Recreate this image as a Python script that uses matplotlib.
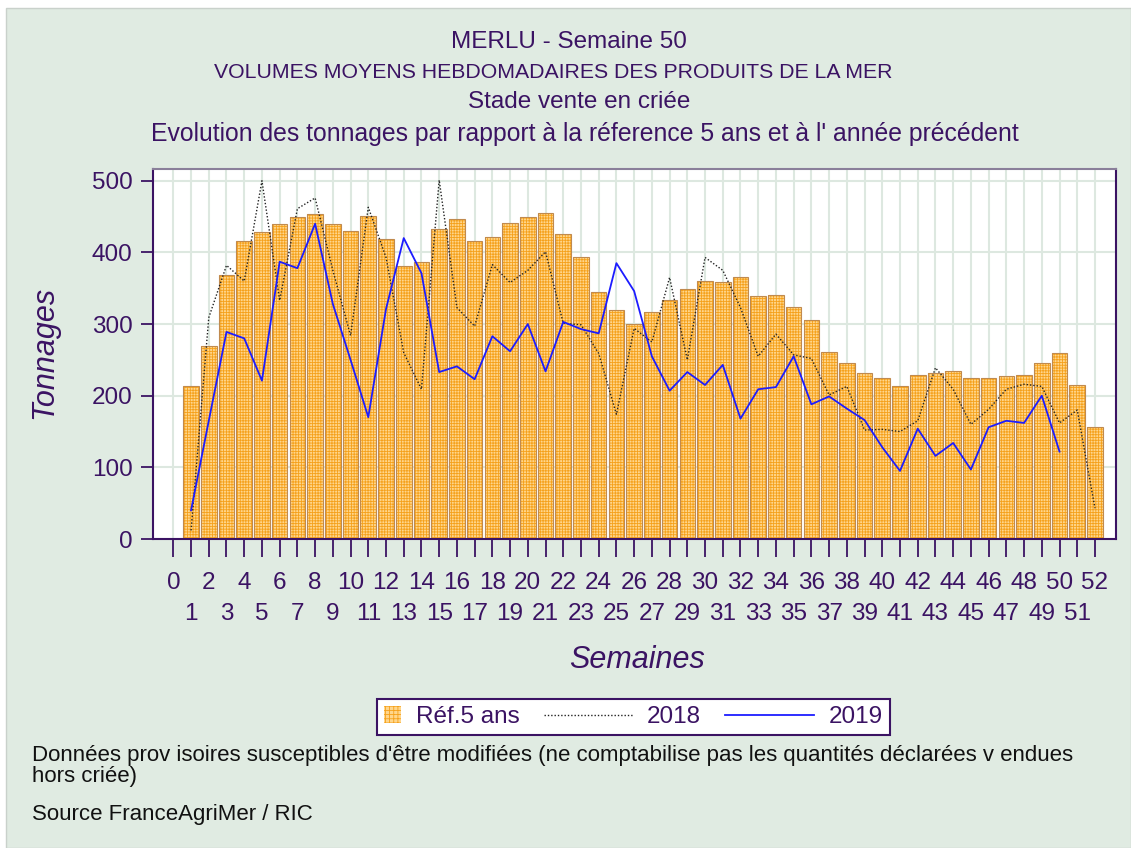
import matplotlib
matplotlib.use("Agg")
import matplotlib.pyplot as plt
from matplotlib.patches import Patch, Rectangle
from matplotlib.lines import Line2D
from matplotlib.legend_handler import HandlerPatch

# ── Data (tonnes per week) ────────────────────────────────────────────────
weeks = list(range(1, 53))
ref5 = [214, 270, 369, 416, 429, 440, 449, 453, 439, 430,
        451, 419, 381, 386, 432, 447, 416, 422, 441, 449,
        455, 426, 394, 345, 319, 300, 317, 333, 349, 360,
        359, 366, 339, 341, 324, 306, 261, 245, 231, 225,
        213, 229, 232, 234, 225, 225, 228, 229, 246, 260,
        215, 156]
y2018 = [12, 309, 382, 360, 500, 333, 461, 476, 375, 284,
         463, 393, 260, 209, 501, 323, 297, 383, 358, 375,
         401, 301, 299, 259, 174, 294, 275, 365, 250, 393,
         375, 323, 255, 286, 257, 252, 201, 213, 152, 153,
         150, 165, 239, 209, 160, 181, 209, 216, 213, 162,
         180, 43]
y2019 = [40, 165, 289, 280, 221, 387, 378, 440, 328, 250,
         170, 321, 420, 371, 233, 241, 223, 283, 262, 300,
         234, 303, 293, 287, 385, 346, 255, 207, 233, 215,
         243, 168, 209, 212, 255, 188, 199, 182, 166, 128,
         95, 154, 116, 134, 97, 156, 165, 162, 200, 122]
week_ticks = list(range(0, 53))
y_ticks = [0, 100, 200, 300, 400, 500]

titles = [
    "MERLU - Semaine 50",
    "VOLUMES MOYENS HEBDOMADAIRES DES PRODUITS DE LA MER",
    "Stade vente en criée",
    "Evolution des tonnages par rapport à la réference 5 ans et à l' année précédent",
]
notes = [
    "Données prov isoires susceptibles d'être modifiées (ne comptabilise pas les quantités déclarées v endues\nhors criée)",
    "Source FranceAgriMer / RIC",
]

PURPLE = "#3b1363"
BG = "#e0ebe2"
BAR_FILL = "#ffd68c"
BAR_HATCH = "#f5a11c"
BAR_EDGE = "#c08a4e"
W, H = 1131, 848

plt.rcParams["font.family"] = ["Liberation Sans", "DejaVu Sans"]
plt.rcParams["hatch.linewidth"] = 0.6


class SquareHandler(HandlerPatch):
    """Draw the bar legend entry as a small square instead of a long box."""

    def legend_artist(self, legend, orig_handle, fontsize, handlebox):
        handlebox.width = handlebox.height
        return super().legend_artist(legend, orig_handle, fontsize, handlebox)


fig = plt.figure(figsize=(W / 100, H / 100), dpi=100)
fig.patch.set_facecolor("white")
fig.patches.append(Rectangle((6 / W, 0), 1 - 6 / W, 1 - 8 / H,
                             transform=fig.transFigure, facecolor=BG,
                             edgecolor="#c9d1cb", lw=1, zorder=-10))

ax = fig.add_axes([153.3 / W, 1 - 539 / H, (1115.7 - 153.3) / W, (539 - 169.3) / H])
ax.set_facecolor("white")

# ── Bars + lines ──────────────────────────────────────────────────────────
ax.bar(weeks, ref5, width=0.88, color=BAR_FILL, edgecolor=BAR_HATCH,
       hatch="++++++", linewidth=0, zorder=2)
ax.bar(weeks, ref5, width=0.88, fill=False, edgecolor=BAR_EDGE,
       linewidth=0.8, zorder=2.1)
ax.plot(weeks, y2018, color="#222222", linestyle=(0, (1, 1.4)), lw=1.0, zorder=3)
ax.plot(weeks[:len(y2019)], y2019, color="#1c1cff", lw=1.3, zorder=4)

ax.set_xlim(-1.13, 53.17)
ax.set_ylim(0, 516)

# ── Axes styling ──────────────────────────────────────────────────────────
even = [w for w in week_ticks if w % 2 == 0]
odd = [w for w in week_ticks if w % 2 == 1]
ax.set_xticks(even, [str(w) for w in even])
ax.set_xticks(odd, [str(w) for w in odd], minor=True)
ax.set_yticks(y_ticks)

ax.set_axisbelow(True)
ax.grid(True, which="both", color="#dde8e0", linewidth=1.5)

for side in ["left", "right", "top", "bottom"]:
    ax.spines[side].set_color(PURPLE)
    ax.spines[side].set_linewidth(1.5)
ax.spines["top"].set_color("#8a7f9a")

ax.tick_params(axis="x", which="major", length=13, width=1.3, color=PURPLE,
               labelcolor=PURPLE, labelsize=17.5, pad=10.5)
ax.tick_params(axis="x", which="minor", length=13, width=1.3, color=PURPLE,
               labelcolor=PURPLE, labelsize=17.5, pad=33)
ax.tick_params(axis="y", length=9, width=1.3, color=PURPLE,
               labelcolor=PURPLE, labelsize=17.5, pad=6)

fig.text(637 / W, 1 - 660 / H, "Semaines", ha="center", va="center",
         fontsize=22, style="italic", color=PURPLE)
fig.text(44 / W, 1 - 352 / H, "Tonnages", ha="center", va="center",
         rotation=90, fontsize=22, style="italic", color=PURPLE)

# ── Titles ────────────────────────────────────────────────────────────────
title_x = [569, 553, 579.5, 585]
title_y = [42, 72, 102, 134]
title_size = [17.5, 15.3, 17.5, 17.8]
for txt, tx, ty, fs in zip(titles, title_x, title_y, title_size):
    fig.text(tx / W, 1 - ty / H, txt, ha="center", va="center", fontsize=fs,
             color=PURPLE)

# ── Legend ────────────────────────────────────────────────────────────────
handles = [
    Patch(facecolor=BAR_FILL, edgecolor=BAR_HATCH, hatch="++++", lw=0),
    Line2D([], [], color="#222222", linestyle=(0, (1, 1.4)), lw=1.0),
    Line2D([], [], color="#1c1cff", lw=1.3),
]
leg = fig.legend(handles, ["Réf.5 ans", "2018", "2019"], loc="center",
                 bbox_to_anchor=(633.5 / W, 1 - 717 / H), ncol=3,
                 fancybox=False, edgecolor=PURPLE, facecolor="white",
                 framealpha=1, fontsize=17.5, labelcolor=PURPLE,
                 handlelength=3.66, handletextpad=0.6, columnspacing=1.0,
                 borderpad=0.28, handler_map={Patch: SquareHandler()})
leg.get_frame().set_linewidth(1.5)

# ── Footnotes ─────────────────────────────────────────────────────────────
fig.text(32 / W, 1 - 745 / H, notes[0], ha="left", va="top", fontsize=16,
         color="#111111", linespacing=1.0)
fig.text(32 / W, 1 - 804 / H, notes[1], ha="left", va="top", fontsize=16,
         color="#111111")

fig.savefig("out.png", dpi=100)
